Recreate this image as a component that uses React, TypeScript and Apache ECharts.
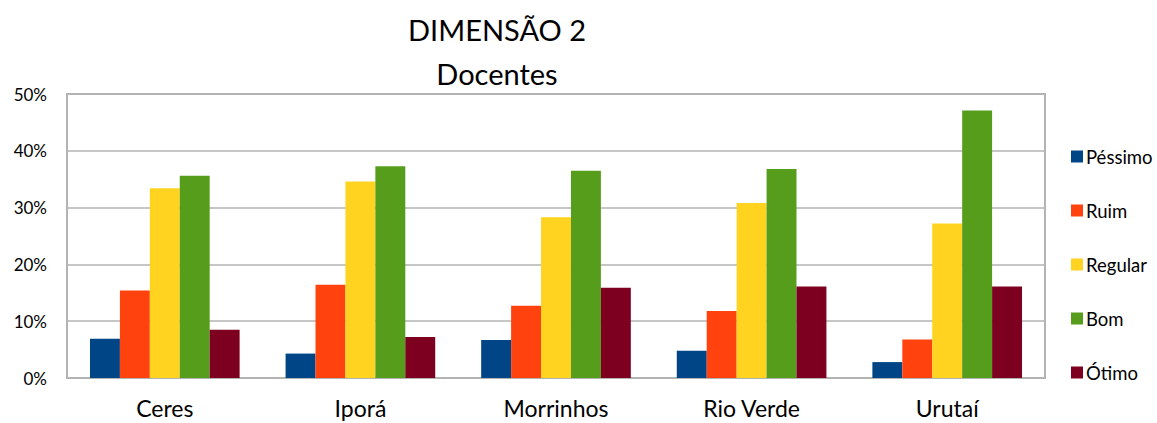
import React, { useEffect, useRef } from "react";
import * as echarts from "echarts";

const categories = ["Ceres", "Iporá", "Morrinhos", "Rio Verde", "Urutaí"];
const seriesNames = ["Péssimo", "Ruim", "Regular", "Bom", "Ótimo"];
const pessimo = [6.9, 4.3, 6.7, 4.8, 2.8];
const ruim = [15.4, 16.4, 12.7, 11.8, 6.8];
const regular = [33.4, 34.6, 28.3, 30.8, 27.2];
const bom = [35.6, 37.3, 36.5, 36.8, 47.1];
const otimo = [8.5, 7.2, 15.9, 16.1, 16.1];
const yTicks = [0, 10, 20, 30, 40, 50];
const colors = ["#004586", "#ff420e", "#ffd320", "#579d1c", "#7e0021"];

const FONT = "Lato, 'Open Sans', sans-serif";

export default function App() {
  const ref = useRef<HTMLDivElement>(null);
  useEffect(() => {
    document.body.style.margin = "0";
    const chart = echarts.init(ref.current!, undefined, { renderer: "svg" });
    const values = [pessimo, ruim, regular, bom, otimo];
    chart.setOption({
      animation: false,
      color: colors,
      textStyle: { fontFamily: FONT },
      title: {
        text: "DIMENSÃO 2\nDocentes",
        left: 492,
        textAlign: "center",
        top: 2,
        textStyle: {
          fontFamily: FONT,
          fontSize: 29,
          fontWeight: "normal",
          color: "#000",
          lineHeight: 44,
        },
      },
      legend: {
        orient: "vertical",
        left: 1066,
        top: 142,
        itemWidth: 12,
        itemHeight: 12,
        itemGap: 35,
        icon: "rect",
        data: seriesNames,
        textStyle: { fontFamily: FONT, fontSize: 18.5, color: "#000", padding: [0, 0, 0, -2] },
      },
      grid: {
        left: 67,
        right: 112,
        top: 94,
        bottom: 45,
        show: true,
        borderColor: "#b3b3b3",
        borderWidth: 2,
      },
      xAxis: {
        type: "category",
        data: categories,
        axisLine: { show: true, lineStyle: { color: "#b3b3b3", width: 2 } },
        axisTick: { show: false },
        axisLabel: { fontFamily: FONT, fontSize: 23, color: "#000", margin: 18, lineHeight: 24 },
      },
      yAxis: {
        type: "value",
        min: yTicks[0],
        max: yTicks[yTicks.length - 1],
        interval: 10,
        axisLine: { show: false },
        axisTick: { show: false },
        splitLine: { lineStyle: { color: "#b3b3b3", width: 1.5 } },
        axisLabel: {
          fontFamily: FONT,
          fontSize: 17,
          color: "#000",
          margin: 20,
          formatter: (v: number) => v + "%",
        },
      },
      series: seriesNames.map((name, i) => ({
        name,
        type: "bar",
        data: values[i],
        barGap: "0%",
        barCategoryGap: "23.5%",
        itemStyle: { color: colors[i] },
      })),
    });
    return () => chart.dispose();
  }, []);
  return <div ref={ref} style={{ width: 1157, height: 423 }} />;
}
